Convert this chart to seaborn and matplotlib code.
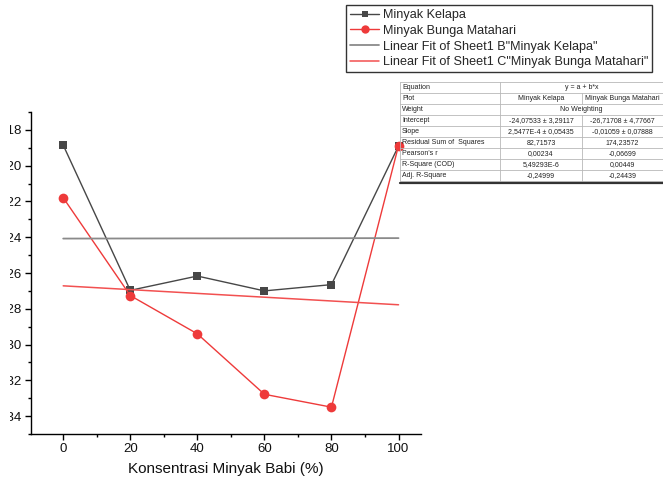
import numpy as np
import pandas as pd
import matplotlib
matplotlib.use("Agg")
import matplotlib.pyplot as plt
from matplotlib.lines import Line2D
from matplotlib.ticker import MultipleLocator
from matplotlib.transforms import Bbox
import seaborn as sns

# Concentration of lard (%) and measured values for each oil
konsentrasi = [0, 20, 40, 60, 80, 100]
minyak_kelapa = [-18.85, -26.97, -26.17, -27.0, -26.65, -18.9]
minyak_bunga_matahari = [-21.79, -27.26, -29.4, -32.78, -33.5, -18.88]

# Linear fit coefficients (y = a + b*x)
fit_kelapa = (-24.07533, 2.5477e-4)
fit_matahari = (-26.71708, -0.01059)

# Axis ticks
x_ticks = [0, 20, 40, 60, 80, 100]
y_ticks = [-34, -32, -30, -28, -26, -24, -22, -20, -18]

# Fit statistics table
tabel_baris = ["Equation", "Plot", "Weight", "Intercept", "Slope",
               "Residual Sum of  Squares", "Pearson's r", "R-Square (COD)",
               "Adj. R-Square"]
tabel_kelapa = ["y = a + b*x", "Minyak Kelapa", "No Weighting",
                "-24,07533 \u00b1 3,29117", "2,5477E-4 \u00b1 0,05435",
                "82,71573", "0,00234", "5,49293E-6", "-0,24999"]
tabel_matahari = ["", "Minyak Bunga Matahari", "",
                  "-26,71708 \u00b1 4,77667", "-0,01059 \u00b1 0,07888",
                  "174,23572", "-0,06699", "0,00449", "-0,24439"]

sns.set_theme(style="ticks")
plt.rcParams["font.family"] = ["Liberation Sans", "DejaVu Sans"]
plt.rcParams["axes.unicode_minus"] = False

W, H = 663, 482
fig = plt.figure(figsize=(W / 100, H / 100), dpi=100)
ax = fig.add_axes([31 / W, 1 - 434 / H, (421 - 31) / W, (434 - 112) / H])

df = pd.DataFrame({
    "x": konsentrasi * 2,
    "y": minyak_kelapa + minyak_bunga_matahari,
    "seri": ["Minyak Kelapa"] * 6 + ["Minyak Bunga Matahari"] * 6,
})

c_kelapa = "#474747"
c_matahari = "#ee3a3a"
c_fit_kelapa = "#8a8a8a"
c_fit_matahari = "#f25050"

sns.lineplot(data=df[df.seri == "Minyak Kelapa"], x="x", y="y", ax=ax,
             color=c_kelapa, marker="s", markersize=6, linewidth=1.0,
             markeredgewidth=0, legend=False)
sns.lineplot(data=df[df.seri == "Minyak Bunga Matahari"], x="x", y="y", ax=ax,
             color=c_matahari, marker="o", markersize=7, linewidth=1.0,
             markeredgewidth=0, legend=False)

xfit = np.array([konsentrasi[0], konsentrasi[-1]])
sns.lineplot(x=xfit, y=fit_kelapa[0] + fit_kelapa[1] * xfit, ax=ax,
             color=c_fit_kelapa, linewidth=1.3, legend=False)
sns.lineplot(x=xfit, y=fit_matahari[0] + fit_matahari[1] * xfit, ax=ax,
             color=c_fit_matahari, linewidth=1.1, legend=False)

ax.set_xlim(-9.6, 106.7)
ax.set_ylim(-35, -17)
ax.set_xticks(x_ticks)
ax.set_yticks(y_ticks)
ax.xaxis.set_minor_locator(MultipleLocator(10))
ax.yaxis.set_minor_locator(MultipleLocator(1))
ax.tick_params(which="major", length=4.3, width=1, color="black",
               labelsize=9.5, pad=2.2, labelcolor="#111111")
ax.tick_params(which="minor", length=2.5, width=1, color="black")
for s in ["top", "right"]:
    ax.spines[s].set_visible(False)
for s in ["left", "bottom"]:
    ax.spines[s].set_color("black")
    ax.spines[s].set_linewidth(1)
ax.set_xlabel("Konsentrasi Minyak Babi (%)", fontsize=11, labelpad=5,
              color="#111111")
ax.set_ylabel("")

# The y tick labels run past the left edge of the page area
page_clip = Bbox.from_extents(9.5, 0, W, H)
for t in ax.yaxis.get_major_ticks():
    t.label1.set_clip_on(True)
    t.label1.set_clip_box(page_clip)

# Legend
handles = [
    Line2D([], [], color=c_kelapa, marker="s", markersize=5, lw=1.0,
           markeredgewidth=0),
    Line2D([], [], color=c_matahari, marker="o", markersize=6, lw=1.0,
           markeredgewidth=0),
    Line2D([], [], color=c_fit_kelapa, lw=1.3),
    Line2D([], [], color=c_fit_matahari, lw=1.1),
]
labels = ["Minyak Kelapa", "Minyak Bunga Matahari",
          'Linear Fit of Sheet1 B"Minyak Kelapa"',
          'Linear Fit of Sheet1 C"Minyak Bunga Matahari"']
leg = fig.legend(handles, labels, loc="upper left",
                 bbox_to_anchor=(346 / W, 1 - 5 / H), fontsize=9.1,
                 frameon=True, fancybox=False, handlelength=2.3,
                 handletextpad=0.28, borderpad=0.32, labelspacing=0.3,
                 borderaxespad=0)
leg.get_frame().set_edgecolor("black")
leg.get_frame().set_linewidth(1.0)

# Fit statistics table in pixel coordinates
tax = fig.add_axes([0, 0, 1, 1])
tax.set_xlim(0, W)
tax.set_ylim(H, 0)
tax.axis("off")
cols = [400, 500, 582, 663]
top = 81.5
rh = 11.1
nrows = len(tabel_baris)
grid = "#b8b8b8"
for i in range(nrows + 1):
    y = top + i * rh
    tax.plot([cols[0], cols[3]], [y, y], color=grid, lw=0.6)
for i, lab in enumerate(tabel_baris):
    yc = top + (i + 0.5) * rh
    tax.text(cols[0] + 2, yc, lab, fontsize=5, va="center", ha="left",
             color="#222222")
    merged = tabel_matahari[i] == "" and i in (0, 2)
    if merged:
        tax.text((cols[1] + cols[3]) / 2, yc, tabel_kelapa[i], fontsize=5,
                 va="center", ha="center", color="#222222")
    else:
        tax.text((cols[1] + cols[2]) / 2, yc, tabel_kelapa[i], fontsize=5,
                 va="center", ha="center", color="#222222")
        tax.text((cols[2] + cols[3]) / 2, yc, tabel_matahari[i], fontsize=5,
                 va="center", ha="center", color="#222222")
        tax.plot([cols[2], cols[2]], [top + i * rh, top + (i + 1) * rh],
                 color=grid, lw=0.6)
bottom = top + nrows * rh
tax.plot([cols[0], cols[0]], [top, bottom], color=grid, lw=0.6)
tax.plot([cols[1], cols[1]], [top, bottom], color=grid, lw=0.6)
tax.plot([cols[3] - 0.5, cols[3] - 0.5], [top, bottom], color=grid, lw=0.6)
tax.plot([cols[0], cols[3]], [bottom + 1.2, bottom + 1.2], color="#333333",
         lw=1.6)

fig.savefig("out.png", dpi=100)
